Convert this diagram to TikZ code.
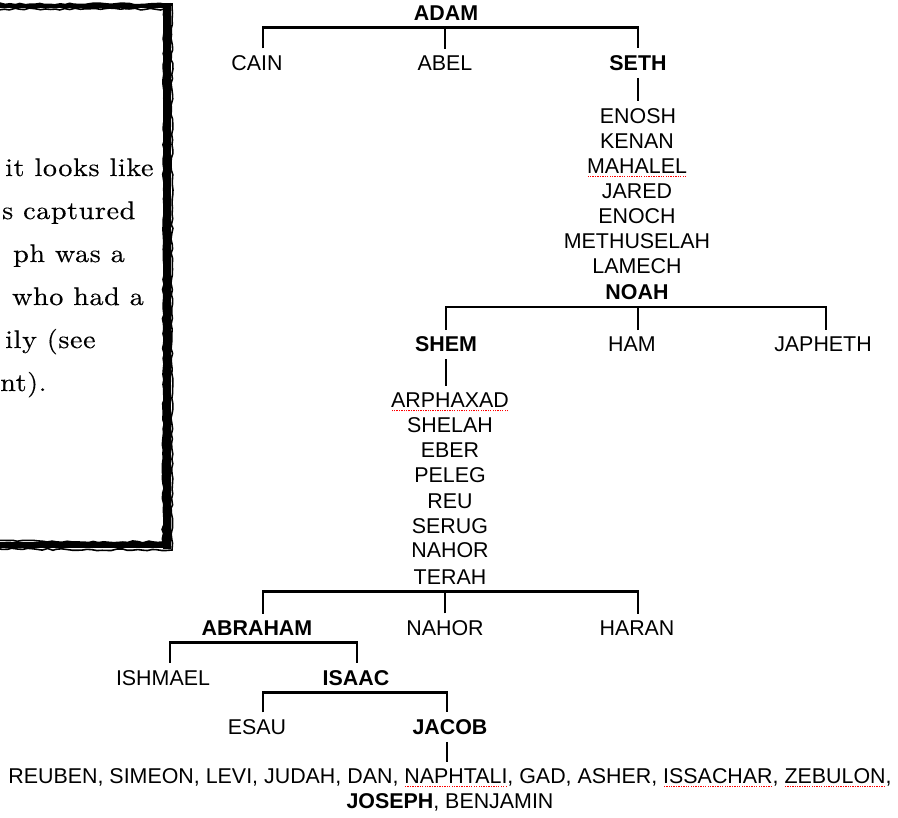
\documentclass[tikz,border=0pt]{standalone}
\usepackage{fontspec}
\setsansfont{Liberation Sans}
\newfontfamily\notefont[FakeStretch=1.1, LetterSpace=2.5, FakeBold=0.4]{lmroman10-regular.otf}
\usepackage{xcolor}
\usetikzlibrary{decorations.pathmorphing}

% red dotted spell-check mark under a name
\newsavebox\typobox
\newcommand\typo[1]{\sbox\typobox{#1}\rlap{\textcolor{red}{\lower3.5pt\hbox to \wd\typobox{\xleaders\hbox{\kern0.5pt\rule{1.3pt}{1.3pt}\kern0.6pt}\hfill}}}\usebox\typobox}

\tikzset{
  kin/.style={font=\sffamily\fontsize{21.4}{25}\selectfont, anchor=base, inner sep=7pt},
  heir/.style={kin, font=\sffamily\bfseries\fontsize{21.4}{25}\selectfont},
  line/.style={line width=2.8pt},
  note/.style={font=\notefont\fontsize{25.5}{30}\selectfont, anchor=base west, inner sep=0pt},
  brush/.style={line width=1.6pt, decorate, decoration={random steps, segment length=5pt, amplitude=1pt}}
}

\begin{document}
\begin{tikzpicture}[x=1pt,y=-1pt]
  \useasboundingbox (0,0) rectangle (898,818);
  \pgfmathsetseed{5}

  % the note box, cut off at the left
  \draw[line width=4pt] (-10,6) -- (169,6);
  \draw[line width=8pt] (167,3) -- (167,549);
  \draw[line width=6pt] (-10,545) -- (171,545);
  \draw[brush] (-10,9) -- (164,9) -- (163,542) -- (-10,541);
  \draw[brush] (-10,4) -- (172,4) -- (172,550) -- (-10,549);

  \node[note] (note1) at (5,176) {it looks like};
  \node[note] (note2) at (2,219) {s captured};
  \node[note] (note3) at (13,262) {ph was a};
  \node[note] (note4) at (12,305) {who had a};
  \node[note] (note5) at (5,348) {ily (see};
  \node[note] (note6) at (0,391) {nt).};

  % adam to noah
  \node[heir] (adam) at (446,20.5) {ADAM};
  \node[kin] (cain) at (257,70.5) {CAIN};
  \node[kin] (abel) at (445,70.5) {ABEL};
  \node[heir] (seth) at (638,70.5) {SETH};
  \node[kin] (enosh) at (638,123.5) {ENOSH};
  \node[kin] (kenan) at (637,148.5) {KENAN};
  \node[kin] (mahalel) at (637,173.5) {\typo{MAHALEL}};
  \node[kin] (jared) at (637,198.5) {JARED};
  \node[kin] (enoch) at (637,223.5) {ENOCH};
  \node[kin] (methuselah) at (637,248.5) {METHUSELAH};
  \node[kin] (lamech) at (637,274) {LAMECH};
  \node[heir] (noah) at (637,299.5) {NOAH};

  \draw[line] ([xshift=6pt]cain.north) |- (adam.south) -| (seth.north);
  \draw[line] (abel.north) -- (abel.north |- adam.south);
  \draw[line] (seth.south) -- (enosh.north);

  % noah to terah
  \node[heir] (shem) at (446,352) {SHEM};
  \node[kin] (ham) at (632,352) {HAM};
  \node[kin] (japheth) at (823,352) {JAPHETH};
  \node[kin] (arphaxad) at (450,408) {\typo{ARPHAXAD}};
  \node[kin] (shelah) at (450,433) {SHELAH};
  \node[kin] (eber) at (450,458) {EBER};
  \node[kin] (peleg) at (450,483) {PELEG};
  \node[kin] (reu) at (450,508) {REU};
  \node[kin] (serug) at (450,533) {SERUG};
  \node[kin] (nahor) at (450,558) {NAHOR};
  \node[kin] (terah) at (450,584) {TERAH};

  \draw[line] (shem.north) |- (noah.south) -| ([xshift=3pt]japheth.north);
  \draw[line] ([xshift=6pt]ham.north) -- ([xshift=6pt]ham.north |- noah.south);
  \draw[line] (shem.south) -- (shem.south |- arphaxad.north);

  % terah to jacob
  \node[heir] (abraham) at (257,635.5) {ABRAHAM};
  \node[kin] (nahor2) at (445,635.5) {NAHOR};
  \node[kin] (haran) at (637,635.5) {HARAN};
  \node[kin] (ishmael) at (163,685) {ISHMAEL};
  \node[heir] (isaac) at (356,685) {ISAAC};
  \node[kin] (esau) at (257,734.5) {ESAU};
  \node[heir] (jacob) at (450,734.5) {JACOB};

  \draw[line] ([xshift=6pt]abraham.north) |- (terah.south) -| ([xshift=1pt]haran.north);
  \draw[line] (nahor2.north) -- (nahor2.north |- terah.south);
  \draw[line] ([xshift=7pt]ishmael.north) |- (abraham.south) -| ([xshift=1pt]isaac.north);
  \draw[line] ([xshift=6pt]esau.north) |- (isaac.south) -| ([xshift=-3pt]jacob.north);

  % the twelve sons
  \node[kin, anchor=north, align=center] (sons) at (450,761.5)
    {REUBEN, SIMEON, LEVI, JUDAH, DAN, \typo{NAPHTALI}, GAD, ASHER, \typo{ISSACHAR}, \typo{ZEBULON},\\
     \textbf{JOSEPH}, BENJAMIN};
  \draw[line] ([xshift=-3pt]jacob.south) -- ([xshift=-3pt]jacob.south |- sons.north);
\end{tikzpicture}
\end{document}
